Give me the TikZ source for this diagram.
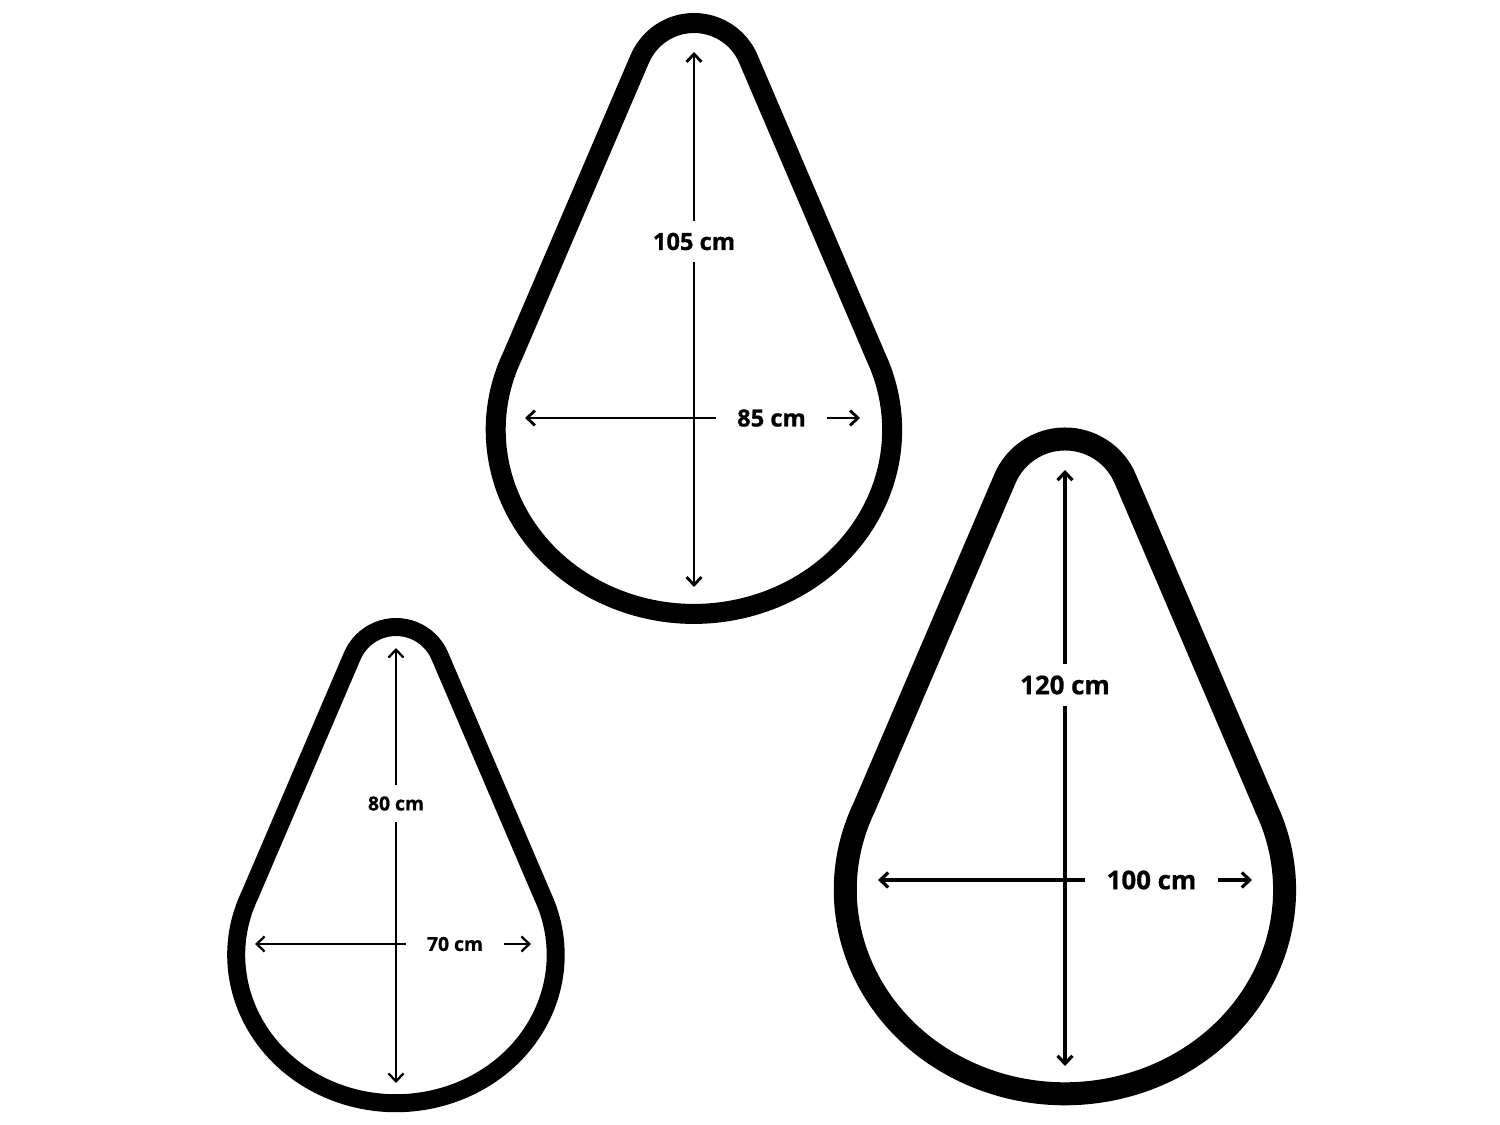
\documentclass[tikz,border=0pt]{standalone}
\usepackage{fontspec}
\setmainfont{Open Sans}[BoldFeatures={FakeBold=0.8}]
\usetikzlibrary{arrows.meta}
\newcommand{\dropshape}[4]{
  \begin{scope}[shift={(#1,#2)},scale=#3]
    \draw[dropline,line width=#4] (0.445,0.184) -- (0.1334,0.912)
      arc[start angle=23.15,end angle=156.85,radius=0.145]
      -- (-0.445,0.184)
      arc[start angle=156,end angle=384,x radius=0.487,y radius=0.452]
      -- cycle;
  \end{scope}
}
\tikzset{
  dropline/.style={line join=round},
  dimline/.style={-{Straight Barb[length=4.5pt,width=8.5pt]}},
  dimtext/.style={inner xsep=0.42cm,inner ysep=0.22cm,font=\bfseries}
}

\begin{document}
\begin{tikzpicture}[x=0.02cm,y=0.02cm]
	\useasboundingbox (0,0) rectangle (1500,1125);
	\dropshape{694}{695}{407}{0.4cm}
	\dropshape{396}{170}{328}{0.36cm}
	\dropshape{1065}{235}{451}{0.46cm}
	\node[dimtext,font=\fontsize{13.5}{16}\bfseries] (l105) at (694,883.5) {105 cm};
	\node[dimtext,font=\fontsize{13.5}{16}\bfseries] (l85) at (771.5,707) {85 cm};
	\coordinate (t105) at (694,1073);
	\coordinate (b105) at (694,538);
	\coordinate (w85) at (525,707);
	\coordinate (e85) at (860,707);
	\node[dimtext,font=\fontsize{11}{13}\bfseries] (l80) at (396,321.5) {80 cm};
	\node[dimtext,font=\fontsize{11}{13}\bfseries] (l70) at (455,181) {70 cm};
	\coordinate (t80) at (396,477);
	\coordinate (b80) at (396,42);
	\coordinate (w70) at (255,181);
	\coordinate (e70) at (531,181);
	\node[dimtext,font=\fontsize{14.7}{17}\bfseries] (l120) at (1065,440) {120 cm};
	\node[dimtext,font=\fontsize{14.7}{17}\bfseries] (l100) at (1151.5,245) {100 cm};
	\coordinate (t120) at (1065,655);
	\coordinate (b120) at (1065,59);
	\coordinate (w100) at (878,245);
	\coordinate (e100) at (1252,245);
	\draw[dimline,line width=1.6pt] (l105) -- (t105);
	\draw[dimline,line width=1.6pt] (l105) -- (b105);
	\draw[dimline,line width=1.6pt] (l85) -- (w85);
	\draw[dimline,line width=1.6pt] (l85) -- (e85);
	\draw[dimline,line width=1.3pt] (l80) -- (t80);
	\draw[dimline,line width=1.3pt] (l80) -- (b80);
	\draw[dimline,line width=1.3pt] (l70) -- (w70);
	\draw[dimline,line width=1.3pt] (l70) -- (e70);
	\draw[dimline,line width=1.8pt] (l120) -- (t120);
	\draw[dimline,line width=1.8pt] (l120) -- (b120);
	\draw[dimline,line width=1.8pt] (l100) -- (w100);
	\draw[dimline,line width=1.8pt] (l100) -- (e100);
\end{tikzpicture}
\end{document}
